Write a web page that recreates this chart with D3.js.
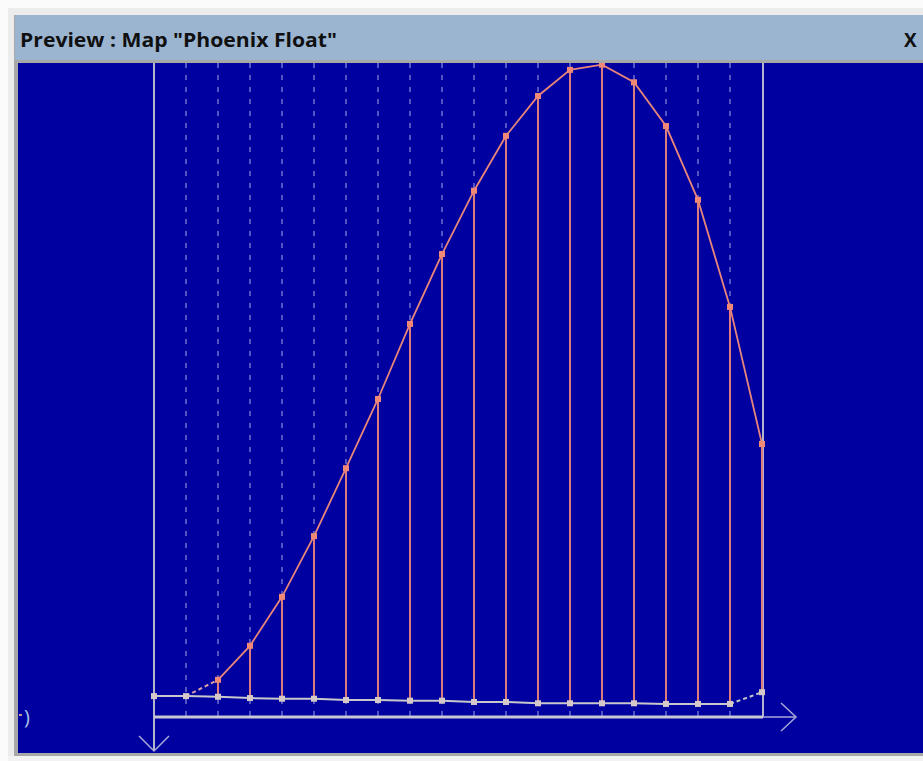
<!DOCTYPE html>
<html><head><meta charset="utf-8">
<script src="https://cdn.jsdelivr.net/npm/d3@7"></script>
<style>html,body{margin:0;padding:0;background:#fbfbfb;overflow:hidden}</style>
</head><body>
<script>
// ---- data ----
const positions = [0,1,2,3,4,5,6,7,8,9,10,11,12,13,14,15,16,17,18,19];
const upperStart = 2;
const upperValues = [5.7,10.9,18.4,27.7,38.1,48.7,60.2,70.9,80.6,89.0,95.1,99.1,99.9,97.2,90.5,79.2,62.8,41.8];
const lowerValues = [3.2,3.2,3.1,2.9,2.8,2.8,2.6,2.6,2.5,2.5,2.3,2.3,2.1,2.1,2.1,2.1,2.0,2.0,2.0,3.8];
const titleText = 'Preview : Map "Phoenix Float"';

const W = 923, H = 761;
const svg = d3.select("body").append("svg").attr("width", W).attr("height", H);

// frame
svg.append("rect").attr("x",0).attr("y",0).attr("width",W).attr("height",H).attr("fill","#fbfbfb");
svg.append("rect").attr("x",8).attr("y",8).attr("width",W-8).attr("height",751).attr("fill","#ececec");
svg.append("rect").attr("x",14).attr("y",15).attr("width",W-14).attr("height",743).attr("fill","#a8a8a8");
svg.append("rect").attr("x",15).attr("y",15).attr("width",W-15).attr("height",45).attr("fill","#9bb5d1");
const plot = {x:18, y:63, w:W-18, h:690};
svg.append("rect").attr("x",plot.x).attr("y",plot.y).attr("width",plot.w).attr("height",plot.h).attr("fill","#0000a0");
svg.append("rect").attr("x",8).attr("y",756).attr("width",W-8).attr("height",5).attr("fill","#f2f2f2");

svg.append("text").attr("x",20).attr("y",47).text(titleText)
  .attr("font-family","'Open Sans', 'Noto Sans', sans-serif").attr("font-weight","bold")
  .attr("font-size",19).attr("fill","#101010").attr("textLength",317).attr("lengthAdjust","spacingAndGlyphs");
svg.append("text").attr("x",904).attr("y",47).text("X")
  .attr("font-family","'Open Sans', sans-serif").attr("font-weight","bold")
  .attr("font-size",19).attr("fill","#101010");

svg.append("defs").append("clipPath").attr("id","clip").append("rect")
  .attr("x",plot.x).attr("y",plot.y).attr("width",plot.w).attr("height",plot.h);
const g = svg.append("g").attr("clip-path","url(#clip)");

// scales
const x = d3.scaleLinear().domain([0,19]).range([154,762]);
const y = d3.scaleLinear().domain([0,100]).range([717,64]);
const axisY = y(0);

// dashed grid verticals
g.selectAll("line.grid").data(positions.slice(1,19)).join("line")
  .attr("x1",d=>x(d)).attr("x2",d=>x(d)).attr("y1",plot.y).attr("y2",axisY+4)
  .attr("stroke","#7070d0").attr("stroke-width",1.5).attr("stroke-dasharray","5,7");

// solid border verticals
g.append("line").attr("x1",x(0)).attr("x2",x(0)).attr("y1",plot.y).attr("y2",750)
  .attr("stroke","#b4b4cc").attr("stroke-width",2);
g.append("line").attr("x1",x(19)+1).attr("x2",x(19)+1).attr("y1",plot.y).attr("y2",axisY)
  .attr("stroke","#b4b4cc").attr("stroke-width",2);

// horizontal axis
g.append("line").attr("x1",x(0)).attr("x2",x(19)+1).attr("y1",axisY).attr("y2",axisY)
  .attr("stroke","#c8c8d4").attr("stroke-width",3);
g.append("line").attr("x1",x(19)+1).attr("x2",796).attr("y1",axisY).attr("y2",axisY)
  .attr("stroke","#a8a8d8").attr("stroke-width",1.5);
g.append("path").attr("d",`M781,703L796,${axisY}L781,731`).attr("fill","none")
  .attr("stroke","#a8a8d8").attr("stroke-width",1.5);
g.append("path").attr("d",`M139,736L${x(0)},751L169,736`).attr("fill","none")
  .attr("stroke","#a8a8d8").attr("stroke-width",1.5);

// left label fragment
svg.append("text").attr("x",24).attr("y",724).text(")")
  .attr("font-family","'Open Sans', sans-serif").attr("font-size",20).attr("fill","#a8c4e8");
svg.append("rect").attr("x",19).attr("y",714).attr("width",3).attr("height",2).attr("fill","#c89898");

// stems
const upperData = upperValues.map((v,i)=>({i:i+upperStart, v}));
g.selectAll("line.stem").data(upperData).join("line")
  .attr("x1",d=>x(d.i)).attr("x2",d=>x(d.i))
  .attr("y1",d=>y(lowerValues[d.i])).attr("y2",d=>y(d.v))
  .attr("stroke","#dc7c7c").attr("stroke-width",2);

// lower line
const line = d3.line().x(d=>x(d.i)).y(d=>y(d.v));
const lowerData = lowerValues.map((v,i)=>({i, v}));
g.append("path").attr("d", line(lowerData.slice(0,19))).attr("fill","none")
  .attr("stroke","#c8c8cc").attr("stroke-width",2);
g.append("path").attr("d", line(lowerData.slice(18))).attr("fill","none")
  .attr("stroke","#c8c8cc").attr("stroke-width",2).attr("stroke-dasharray","4,3");

// upper curve
g.append("path").attr("d", line([lowerData[1], upperData[0]])).attr("fill","none")
  .attr("stroke","#d8a0a8").attr("stroke-width",2).attr("stroke-dasharray","4,3");
g.append("path").attr("d", line(upperData)).attr("fill","none")
  .attr("stroke","#e8867a").attr("stroke-width",1.8);

// points
g.selectAll("rect.lp").data(lowerData).join("rect")
  .attr("x",d=>x(d.i)-3).attr("y",d=>y(d.v)-3).attr("width",6).attr("height",6)
  .attr("fill","#d4c8c8");
g.selectAll("rect.up").data(upperData).join("rect")
  .attr("x",d=>x(d.i)-3).attr("y",d=>y(d.v)-3).attr("width",6).attr("height",6)
  .attr("fill","#f08878");
</script>
</body></html>
